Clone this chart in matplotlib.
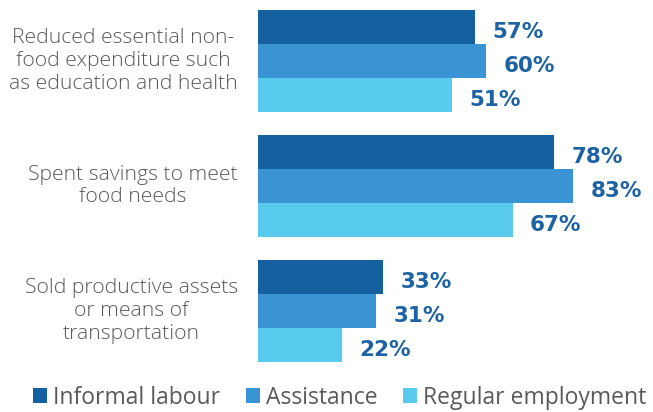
import matplotlib
matplotlib.use("Agg")
from matplotlib import pyplot as plt
from matplotlib.patches import Patch
import numpy as np

# coping strategies by main income source
categories = [
    "Reduced essential non-\nfood expenditure such\nas education and health",
    "Spent savings to meet\nfood needs",
    "Sold productive assets\nor means of\ntransportation",
]
series = ["Informal labour", "Assistance", "Regular employment"]
informal = [57, 78, 33]
assistance = [60, 83, 31]
regular = [51, 67, 22]

colors = ["#1561a0", "#3a94d3", "#58cbec"]
label_color = "#1d63a3"
text_color = "#595959"

plt.rcParams["font.family"] = ["Open Sans", "DejaVu Sans"]

fig = plt.figure(figsize=(6.53, 4.12), dpi=100)
ax = fig.add_axes([258 / 653, 1 - 362 / 412, 1 - 258 / 653, 352 / 412])

h = 34 / 125
y = np.arange(len(categories))
values = [informal, assistance, regular]
for k, (vals, c) in enumerate(zip(values, colors)):
    pos = y + (k - 1) * h
    ax.barh(pos, vals, height=h, color=c, edgecolor="none")
    for p, v in zip(pos, vals):
        ax.text(v + 4.6, p + 0.04, f"{v}%", va="center", ha="left",
                fontsize=15.5, fontweight="bold", color=label_color,
                family="DejaVu Sans")

ax.set_xlim(0, 395 / 3.8)
ax.set_ylim(2 + 1.5 * h, -1.5 * h)
ax.axis("off")

for p, cat in zip(y, categories):
    ax.text(-5.3, p, cat, ha="right", va="center", multialignment="center",
            fontsize=15.2, fontweight="light", color=text_color,
            linespacing=1.18)

handles = [Patch(facecolor=c, edgecolor="none") for c in colors]
fig.legend(handles, series, loc="lower center", bbox_to_anchor=(0.52, -0.045),
           ncol=3, frameon=False, fontsize=16.5, handlelength=0.61,
           handleheight=0.61, handletextpad=0.26, columnspacing=1.13,
           labelcolor=text_color)

fig.savefig("out.png", dpi=100)
